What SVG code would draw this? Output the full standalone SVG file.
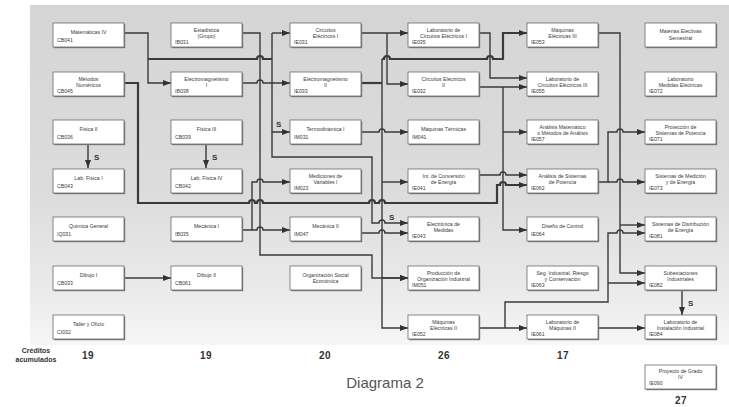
<svg xmlns="http://www.w3.org/2000/svg" width="729" height="407" viewBox="0 0 729 407">
  <defs>
    <linearGradient id="panel" x1="0" y1="0" x2="0" y2="1">
      <stop offset="0" stop-color="#d5d5d5"/>
      <stop offset="0.55" stop-color="#dcdcdc"/>
      <stop offset="0.85" stop-color="#ebebeb"/>
      <stop offset="1" stop-color="#f6f6f6"/>
    </linearGradient>
    <marker id="arr" markerUnits="userSpaceOnUse" markerWidth="8" markerHeight="6" refX="8" refY="3" orient="auto">
      <path d="M0,0 L8,3 L0,6 z" fill="#333"/>
    </marker>
  </defs>
  <style>
    .sh { fill: #7c7c7c; }
    .fc { fill: #ffffff; stroke: #6a6a6a; stroke-width: 0.8; }
    .t { font-family: "Liberation Sans", Arial, sans-serif; font-size: 5.2px; fill: #3a3a3a; }
    .c { text-anchor: middle; }
    .ln { fill: none; stroke: #3a3a3a; stroke-width: 1.4; }
    .w { stroke-width: 2.2; }
    .a { marker-end: url(#arr); }
    .s { font-family: "Liberation Sans", Arial, sans-serif; font-size: 8px; font-weight: bold; fill: #333; }
    .num { font-family: "Liberation Sans", Arial, sans-serif; font-size: 10px; font-weight: bold; fill: #333; text-anchor: middle; letter-spacing: 0.5px; }
    .cap { font-family: "Liberation Sans", Arial, sans-serif; font-size: 7px; font-weight: bold; fill: #333; text-anchor: middle; }
    .title { font-family: "Liberation Sans", Arial, sans-serif; font-size: 15px; fill: #555; text-anchor: middle; }
  </style>

  <!-- background panel -->
  <rect x="30" y="5" width="699" height="340" fill="url(#panel)"/>

  <!-- connectors -->
  <g id="connectors">
    <!-- column 1 to column 2 -->
    <path class="ln a" d="M124,33 H148 V83 H171"/>
    <path class="ln w" d="M148,59 H257 a3,3 0 0 1 6,0 H272"/>
    <path class="ln w a" d="M124,83 H138 V203 H249 a3,3 0 0 1 6,0 H257 a3,3 0 0 1 6,0 H369 a3,3 0 0 1 6,0 H379 a3,3 0 0 1 6,0 H497 V185 H500 a3,3 0 0 1 6,0 H527"/>
    <path class="ln a" d="M88,144 V168"/>
    <path class="ln a" d="M206,144 V168"/>
    <path class="ln a" d="M124,278 H171"/>

    <!-- column 2 to column 3 / 4 -->
    <path class="ln a" d="M242,33 H260 V255 H372 V278 H408"/>
    <path class="ln a" d="M242,83 H257 a3,3 0 0 1 6,0 H290"/>
    <path class="ln a" d="M272,33 H290"/>
    <path class="ln a" d="M272,33 V132 H290"/>
    <path class="ln a" d="M272,132 V157 H372 V223 H379 a3,3 0 0 1 6,0 H408"/>
    <path class="ln a" d="M242,230 H252 V182 H257 a3,3 0 0 1 6,0 H290"/>
    <path class="ln a" d="M252,230 H257 a3,3 0 0 1 6,0 H290"/>

    <!-- column 3 to column 4 -->
    <path class="ln a" d="M361,33 H408"/>
    <path class="ln a" d="M387,33 V84 H408"/>
    <path class="ln w" d="M361,83 H382"/>
    <path class="ln a" d="M382,59 V328 H408"/>
    <path class="ln a" d="M382,182 H408"/>
    <path class="ln a" d="M382,278 H408"/>
    <path class="ln w a" d="M382,59 H384 a3,3 0 0 1 6,0 H487 a3,3 0 0 1 6,0 H503 V33 H527"/>
    <path class="ln a" d="M361,132 H379 a3,3 0 0 1 6,0 H408"/>
    <path class="ln a" d="M361,233 H379 a3,3 0 0 1 6,0 H408"/>

    <!-- column 4 to column 5 -->
    <path class="ln a" d="M479,33 H490 V78 H527"/>
    <path class="ln a" d="M479,87 H527"/>
    <path class="ln a" d="M503,87 V230 H527"/>
    <path class="ln a" d="M503,132 H527"/>
    <path class="ln a" d="M479,175 H500 a3,3 0 0 1 6,0 H527"/>
    <path class="ln a" d="M479,328 H527"/>
    <path class="ln a" d="M505,328 V302 H608 V233 H617 a3,3 0 0 1 6,0 H645"/>
    <path class="ln a" d="M608,283 H645"/>

    <!-- column 5 to column 6 -->
    <path class="ln a" d="M598,33 H620 V273 H645"/>
    <path class="ln a" d="M620,225 H645"/>
    <path class="ln a" d="M598,182 H608 V132 H617 a3,3 0 0 1 6,0 H645"/>
    <path class="ln a" d="M608,182 H617 a3,3 0 0 1 6,0 H645"/>
    <path class="ln a" d="M682,290 V315"/>
    <path class="ln a" d="M598,328 H645"/>

    <!-- simultaneous-course marks -->
    <text class="s" x="94" y="160">S</text>
    <text class="s" x="212" y="160">S</text>
    <text class="s" x="276" y="127">S</text>
    <text class="s" x="389" y="220">S</text>
    <text class="s" x="688" y="306">S</text>
  </g>

  <!-- column 1 -->
  <g id="n-mat4"><rect class="sh" x="54.2" y="24.2" width="71" height="24"/><rect class="fc" x="53" y="23" width="71" height="24"/><text class="t c" x="88.5" y="34">Matemáticas IV</text><text class="t" x="57" y="42">CB041</text></g>
  <g id="n-metnum"><rect class="sh" x="54.2" y="73.2" width="71" height="24"/><rect class="fc" x="53" y="72" width="71" height="24"/><text class="t c" x="88.5" y="81">Métodos</text><text class="t c" x="88.5" y="87">Numéricos</text><text class="t" x="57" y="93">CB045</text></g>
  <g id="n-fis2"><rect class="sh" x="54.2" y="121.2" width="71" height="24"/><rect class="fc" x="53" y="120" width="71" height="24"/><text class="t c" x="88.5" y="131">Física II</text><text class="t" x="57" y="139">CB036</text></g>
  <g id="n-labfis1"><rect class="sh" x="54.2" y="170.2" width="71" height="24"/><rect class="fc" x="53" y="169" width="71" height="24"/><text class="t c" x="88.5" y="180">Lab. Física I</text><text class="t" x="57" y="188">CB043</text></g>
  <g id="n-quimica"><rect class="sh" x="54.2" y="218.2" width="71" height="24"/><rect class="fc" x="53" y="217" width="71" height="24"/><text class="t c" x="88.5" y="228">Química General</text><text class="t" x="57" y="236">IQ031</text></g>
  <g id="n-dib1"><rect class="sh" x="54.2" y="267.2" width="71" height="24"/><rect class="fc" x="53" y="266" width="71" height="24"/><text class="t c" x="88.5" y="277">Dibujo I</text><text class="t" x="57" y="285">CB033</text></g>
  <g id="n-taller"><rect class="sh" x="54.2" y="316.2" width="71" height="24"/><rect class="fc" x="53" y="315" width="71" height="24"/><text class="t c" x="88.5" y="326">Taller y Oficio</text><text class="t" x="57" y="334">CI032</text></g>

  <!-- column 2 -->
  <g id="n-estad"><rect class="sh" x="172.2" y="24.2" width="71" height="24"/><rect class="fc" x="171" y="23" width="71" height="24"/><text class="t c" x="206.5" y="32">Estadística</text><text class="t c" x="206.5" y="38">(Grupo)</text><text class="t" x="175" y="44">IB031</text></g>
  <g id="n-em1"><rect class="sh" x="172.2" y="73.2" width="71" height="24"/><rect class="fc" x="171" y="72" width="71" height="24"/><text class="t c" x="206.5" y="81">Electromagnetismo</text><text class="t c" x="206.5" y="87">I</text><text class="t" x="175" y="93">IB038</text></g>
  <g id="n-fis3"><rect class="sh" x="172.2" y="121.2" width="71" height="24"/><rect class="fc" x="171" y="120" width="71" height="24"/><text class="t c" x="206.5" y="131">Física III</text><text class="t" x="175" y="139">CB039</text></g>
  <g id="n-labfis4"><rect class="sh" x="172.2" y="170.2" width="71" height="24"/><rect class="fc" x="171" y="169" width="71" height="24"/><text class="t c" x="206.5" y="180">Lab. Física IV</text><text class="t" x="175" y="188">CB042</text></g>
  <g id="n-mec1"><rect class="sh" x="172.2" y="218.2" width="71" height="24"/><rect class="fc" x="171" y="217" width="71" height="24"/><text class="t c" x="206.5" y="228">Mecánica I</text><text class="t" x="175" y="236">IB035</text></g>
  <g id="n-dib2"><rect class="sh" x="172.2" y="267.2" width="71" height="24"/><rect class="fc" x="171" y="266" width="71" height="24"/><text class="t c" x="206.5" y="277">Dibujo II</text><text class="t" x="175" y="285">CB061</text></g>

  <!-- column 3 -->
  <g id="n-circ1"><rect class="sh" x="291.2" y="24.2" width="71" height="24"/><rect class="fc" x="290" y="23" width="71" height="24"/><text class="t c" x="325.5" y="32">Circuitos</text><text class="t c" x="325.5" y="38">Eléctricos I</text><text class="t" x="294" y="44">IE031</text></g>
  <g id="n-em2"><rect class="sh" x="291.2" y="73.2" width="71" height="24"/><rect class="fc" x="290" y="72" width="71" height="24"/><text class="t c" x="325.5" y="81">Electromagnetismo</text><text class="t c" x="325.5" y="87">II</text><text class="t" x="294" y="93">IE033</text></g>
  <g id="n-termo1"><rect class="sh" x="291.2" y="121.2" width="71" height="24"/><rect class="fc" x="290" y="120" width="71" height="24"/><text class="t c" x="325.5" y="131">Termodinámica I</text><text class="t" x="294" y="139">IM031</text></g>
  <g id="n-medic"><rect class="sh" x="291.2" y="170.2" width="71" height="24"/><rect class="fc" x="290" y="169" width="71" height="24"/><text class="t c" x="325.5" y="178">Mediciones de</text><text class="t c" x="325.5" y="184">Variables I</text><text class="t" x="294" y="190">IM023</text></g>
  <g id="n-mec2"><rect class="sh" x="291.2" y="218.2" width="71" height="24"/><rect class="fc" x="290" y="217" width="71" height="24"/><text class="t c" x="325.5" y="228">Mecánica II</text><text class="t" x="294" y="236">IM047</text></g>
  <g id="n-organiz"><rect class="sh" x="291.2" y="267.2" width="71" height="24"/><rect class="fc" x="290" y="266" width="71" height="24"/><text class="t c" x="325.5" y="277">Organización Social</text><text class="t c" x="325.5" y="283">Económica</text></g>

  <!-- column 4 -->
  <g id="n-labcirc1"><rect class="sh" x="409.2" y="24.2" width="71" height="24"/><rect class="fc" x="408" y="23" width="71" height="24"/><text class="t c" x="443.5" y="32">Laboratorio de</text><text class="t c" x="443.5" y="38">Circuitos Eléctricos I</text><text class="t" x="412" y="44">IE035</text></g>
  <g id="n-circ2"><rect class="sh" x="409.2" y="73.2" width="71" height="24"/><rect class="fc" x="408" y="72" width="71" height="24"/><text class="t c" x="443.5" y="81">Circuitos Eléctricos</text><text class="t c" x="443.5" y="87">II</text><text class="t" x="412" y="93">IE032</text></g>
  <g id="n-maqterm"><rect class="sh" x="409.2" y="121.2" width="71" height="24"/><rect class="fc" x="408" y="120" width="71" height="24"/><text class="t c" x="443.5" y="131">Máquinas Térmicas</text><text class="t" x="412" y="139">IM041</text></g>
  <g id="n-conv"><rect class="sh" x="409.2" y="170.2" width="71" height="24"/><rect class="fc" x="408" y="169" width="71" height="24"/><text class="t c" x="443.5" y="178">Int. de Conversión</text><text class="t c" x="443.5" y="184">de Energía</text><text class="t" x="412" y="190">IE041</text></g>
  <g id="n-electr"><rect class="sh" x="409.2" y="218.2" width="71" height="24"/><rect class="fc" x="408" y="217" width="71" height="24"/><text class="t c" x="443.5" y="226">Electrónica de</text><text class="t c" x="443.5" y="232">Medidas</text><text class="t" x="412" y="238">IE043</text></g>
  <g id="n-prod"><rect class="sh" x="409.2" y="267.2" width="71" height="24"/><rect class="fc" x="408" y="266" width="71" height="24"/><text class="t c" x="443.5" y="275">Producción de</text><text class="t c" x="443.5" y="281">Organización Industrial</text><text class="t" x="412" y="287">IM051</text></g>
  <g id="n-maqel2"><rect class="sh" x="409.2" y="316.2" width="71" height="24"/><rect class="fc" x="408" y="315" width="71" height="24"/><text class="t c" x="443.5" y="324">Máquinas</text><text class="t c" x="443.5" y="330">Eléctricas II</text><text class="t" x="412" y="336">IE052</text></g>

  <!-- column 5 -->
  <g id="n-maqel3"><rect class="sh" x="528.2" y="24.2" width="71" height="24"/><rect class="fc" x="527" y="23" width="71" height="24"/><text class="t c" x="562.5" y="32">Máquinas</text><text class="t c" x="562.5" y="38">Eléctricas III</text><text class="t" x="531" y="44">IE053</text></g>
  <g id="n-labcirc3"><rect class="sh" x="528.2" y="73.2" width="71" height="24"/><rect class="fc" x="527" y="72" width="71" height="24"/><text class="t c" x="562.5" y="81">Laboratorio de</text><text class="t c" x="562.5" y="87">Circuitos Eléctricos III</text><text class="t" x="531" y="93">IE055</text></g>
  <g id="n-anmat"><rect class="sh" x="528.2" y="121.2" width="71" height="24"/><rect class="fc" x="527" y="120" width="71" height="24"/><text class="t c" x="562.5" y="129">Análisis Matemático</text><text class="t c" x="562.5" y="135">o Métodos de Análisis</text><text class="t" x="531" y="141">IE057</text></g>
  <g id="n-ansp"><rect class="sh" x="528.2" y="170.2" width="71" height="24"/><rect class="fc" x="527" y="169" width="71" height="24"/><text class="t c" x="562.5" y="178">Análisis de Sistemas</text><text class="t c" x="562.5" y="184">de Potencia</text><text class="t" x="531" y="190">IE062</text></g>
  <g id="n-control"><rect class="sh" x="528.2" y="218.2" width="71" height="24"/><rect class="fc" x="527" y="217" width="71" height="24"/><text class="t c" x="562.5" y="228">Diseño de Control</text><text class="t" x="531" y="236">IE064</text></g>
  <g id="n-seg"><rect class="sh" x="528.2" y="267.2" width="71" height="24"/><rect class="fc" x="527" y="266" width="71" height="24"/><text class="t c" x="562.5" y="275">Seg. Industrial, Riesgo</text><text class="t c" x="562.5" y="281">y Conservación</text><text class="t" x="531" y="287">IE063</text></g>
  <g id="n-labmaq2"><rect class="sh" x="528.2" y="316.2" width="71" height="24"/><rect class="fc" x="527" y="315" width="71" height="24"/><text class="t c" x="562.5" y="324">Laboratorio de</text><text class="t c" x="562.5" y="330">Máquinas II</text><text class="t" x="531" y="336">IE061</text></g>

  <!-- column 6 -->
  <g id="n-electivas"><rect class="sh" x="646.2" y="24.2" width="71" height="24"/><rect class="fc" x="645" y="23" width="71" height="24"/><text class="t c" x="680.5" y="33">Materias Electivas</text><text class="t c" x="680.5" y="40">Semestral</text></g>
  <g id="n-labmed"><rect class="sh" x="646.2" y="73.2" width="71" height="24"/><rect class="fc" x="645" y="72" width="71" height="24"/><text class="t c" x="680.5" y="81">Laboratorio</text><text class="t c" x="680.5" y="87">Medidas Eléctricas</text><text class="t" x="649" y="93">IE072</text></g>
  <g id="n-prot"><rect class="sh" x="646.2" y="121.2" width="71" height="24"/><rect class="fc" x="645" y="120" width="71" height="24"/><text class="t c" x="680.5" y="129">Protección de</text><text class="t c" x="680.5" y="135">Sistemas de Potencia</text><text class="t" x="649" y="141">IE071</text></g>
  <g id="n-medicion"><rect class="sh" x="646.2" y="170.2" width="71" height="24"/><rect class="fc" x="645" y="169" width="71" height="24"/><text class="t c" x="680.5" y="178">Sistemas de Medición</text><text class="t c" x="680.5" y="184">y de Energía</text><text class="t" x="649" y="190">IE073</text></g>
  <g id="n-distrib"><rect class="sh" x="646.2" y="218.2" width="71" height="24"/><rect class="fc" x="645" y="217" width="71" height="24"/><text class="t c" x="680.5" y="226">Sistemas de Distribución</text><text class="t c" x="680.5" y="232">de Energía</text><text class="t" x="649" y="238">IE081</text></g>
  <g id="n-subest"><rect class="sh" x="646.2" y="267.2" width="71" height="24"/><rect class="fc" x="645" y="266" width="71" height="24"/><text class="t c" x="680.5" y="275">Subestaciones</text><text class="t c" x="680.5" y="281">Industriales</text><text class="t" x="649" y="287">IE082</text></g>
  <g id="n-labinst"><rect class="sh" x="646.2" y="316.2" width="71" height="24"/><rect class="fc" x="645" y="315" width="71" height="24"/><text class="t c" x="680.5" y="324">Laboratorio de</text><text class="t c" x="680.5" y="330">Instalación Industrial</text><text class="t" x="649" y="336">IE084</text></g>
  <g id="n-proyecto"><rect class="sh" x="646.2" y="366.2" width="71" height="24"/><rect class="fc" x="645" y="365" width="71" height="24"/><text class="t c" x="680.5" y="373">Proyecto de Grado</text><text class="t c" x="680.5" y="379">IV</text><text class="t" x="649" y="385">IE090</text></g>

  <!-- accumulated credits -->
  <g id="credits">
    <text class="cap" x="36" y="353">Créditos</text>
    <text class="cap" x="36" y="362">acumulados</text>
    <text class="num" x="88" y="359">19</text>
    <text class="num" x="206" y="359">19</text>
    <text class="num" x="325" y="359">20</text>
    <text class="num" x="444" y="359">26</text>
    <text class="num" x="563" y="359">17</text>
    <text class="num" x="681" y="404">27</text>
  </g>

  <text class="title" x="385" y="388">Diagrama 2</text>
</svg>
